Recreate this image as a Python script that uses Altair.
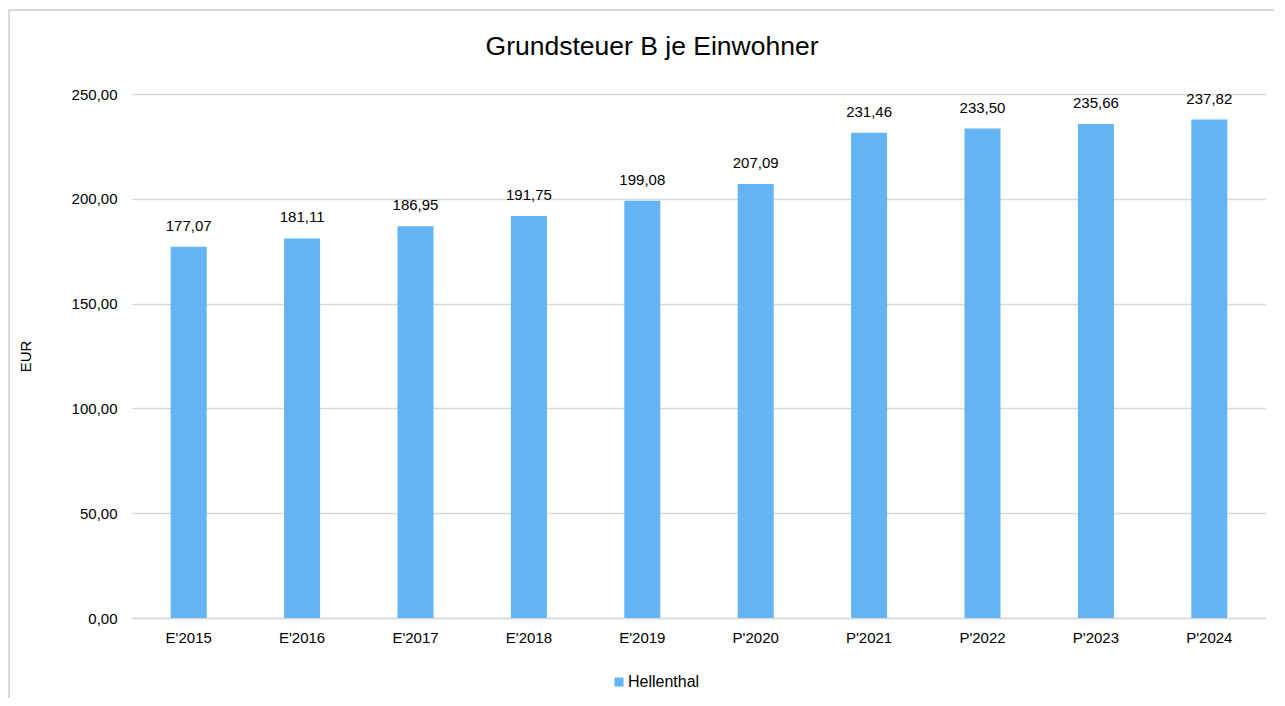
import altair as alt
import pandas as pd

categories = ["E'2015", "E'2016", "E'2017", "E'2018", "E'2019",
              "P'2020", "P'2021", "P'2022", "P'2023", "P'2024"]
values = [177.07, 181.11, 186.95, 191.75, 199.08,
          207.09, 231.46, 233.50, 235.66, 237.82]
series = ["Hellenthal"] * len(categories)

df = pd.DataFrame({"Jahr": categories, "Wert": values, "Serie": series})

FONT = "Liberation Sans"
GRID = "#D9D9D9"
BAR = "#63B4F5"
FS = 15

base = alt.Chart(df)

bars = base.mark_bar(size=36, color=BAR).encode(
    x=alt.X("Jahr:N", sort=categories, title=None,
            axis=alt.Axis(labelAngle=0, ticks=False, grid=False, domainColor=GRID,
                          domainWidth=1.5,
                          labelFontSize=FS, labelColor="#000000", labelPadding=12,
                          labelFont=FONT),
            scale=alt.Scale(paddingInner=0, paddingOuter=0)),
    y=alt.Y("Wert:Q", title="EUR",
            scale=alt.Scale(domain=[0, 250], nice=False),
            axis=alt.Axis(values=[0, 50, 100, 150, 200, 250], domain=False, ticks=False,
                          gridColor=GRID, gridWidth=1.5,
                          labelExpr="replace(format(datum.value, '.2f'), '.', ',')",
                          labelFontSize=FS, labelColor="#000000", labelPadding=15,
                          labelFont=FONT, titleFont=FONT, titleFontSize=FS,
                          titleFontWeight="normal", titleColor="#000000",
                          titlePadding=38)),
    color=alt.Color("Serie:N", scale=alt.Scale(range=[BAR]),
                    legend=alt.Legend(title=None, orient="none", legendX=479, legendY=580,
                                      symbolType="square", symbolSize=81,
                                      symbolStrokeWidth=0,
                                      labelFontSize=16, labelColor="#000000",
                                      labelFont=FONT, labelOffset=1)),
)

labels = base.transform_calculate(
    lab="replace(format(datum.Wert, '.2f'), '.', ',')"
).mark_text(baseline="bottom", dy=-13, fontSize=FS, font=FONT, color="#000000").encode(
    x=alt.X("Jahr:N", sort=categories),
    y=alt.Y("Wert:Q"),
    text="lab:N",
)

border_top = base.mark_rule(color=GRID, strokeWidth=1.5).encode(
    x=alt.value(-123), x2=alt.value(1160), y=alt.value(-84)
)
border_left = base.mark_rule(color=GRID, strokeWidth=1.5).encode(
    x=alt.value(-123), y=alt.value(-84), y2=alt.value(620)
)

chart = alt.layer(border_top, border_left, bars, labels).properties(
    width=1134, height=524,
    autosize=alt.AutoSizeParams(type="none"),
    padding={"left": 124, "top": 86, "right": 8, "bottom": 80},
    view=alt.ViewBackground(stroke="transparent", strokeWidth=0),
    title=alt.TitleParams("Grundsteuer B je Einwohner", fontSize=26.5, font=FONT,
                          fontWeight="normal", color="#000000", anchor="middle",
                          dx=-47, offset=-51),
).configure_view(strokeWidth=0, stroke="transparent").configure(background="white")

chart.save("out.html", embed_options={"renderer": "svg", "actions": False})
